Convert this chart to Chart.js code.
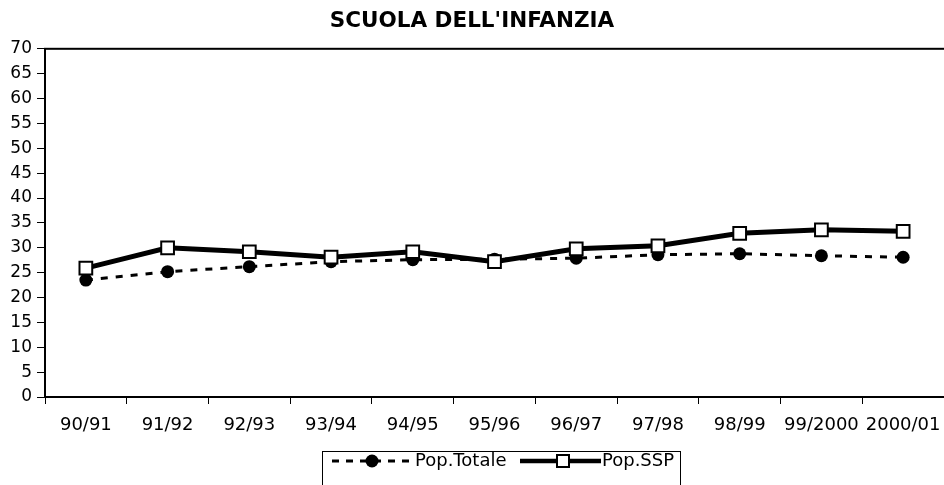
<!DOCTYPE html>
<html>
<head>
<meta charset="utf-8">
<script src="https://cdn.jsdelivr.net/npm/chart.js@4"></script>
<style>
  html, body { margin: 0; padding: 0; background: #fff; }
  #wrap { width: 944px; height: 485px; }
</style>
</head>
<body>
<div id="wrap"><canvas id="myChart" width="944" height="485"></canvas></div>
<script>
// data
const years = ['90/91', '91/92', '92/93', '93/94', '94/95', '95/96', '96/97', '97/98', '98/99', '99/2000', '2000/01'];
const popTotale = [23.5, 25.2, 26.2, 27.2, 27.6, 27.7, 27.9, 28.6, 28.8, 28.4, 28.1];
const popSSP = [25.9, 30.0, 29.2, 28.1, 29.2, 27.2, 29.8, 30.4, 32.9, 33.6, 33.3];
const yTicks = [0, 70, 5]; // min, max, step

const font = '"DejaVu Sans", Arial, sans-serif';

// box round the plot area + the legend drawn by hand
const framePlugin = {
  id: 'frame',
  afterDraw: function(chart) {
    const ctx = chart.ctx;
    const a = chart.chartArea;
    ctx.save();
    ctx.strokeStyle = '#000';
    ctx.lineWidth = 2;
    ctx.strokeRect(a.left, a.top, a.right - a.left + 4, a.bottom - a.top);

    // legend
    ctx.lineWidth = 1;
    ctx.strokeRect(322.5, 451.5, 358, 40);
    const ly = 461;
    // Pop.Totale
    ctx.lineWidth = 3;
    ctx.setLineDash([7, 7]);
    ctx.beginPath();
    ctx.moveTo(332, ly);
    ctx.lineTo(413, ly);
    ctx.stroke();
    ctx.setLineDash([]);
    ctx.fillStyle = '#000';
    ctx.beginPath();
    ctx.arc(372, ly, 6.5, 0, Math.PI * 2);
    ctx.fill();
    // Pop.SSP
    ctx.lineWidth = 4.5;
    ctx.beginPath();
    ctx.moveTo(520, ly);
    ctx.lineTo(601, ly);
    ctx.stroke();
    ctx.fillStyle = '#fff';
    ctx.lineWidth = 2;
    ctx.fillRect(557, ly - 6, 12, 12);
    ctx.strokeRect(557, ly - 6, 12, 12);

    ctx.fillStyle = '#000';
    ctx.font = '18px ' + font;
    ctx.textBaseline = 'middle';
    ctx.textAlign = 'left';
    ctx.fillText('Pop.Totale', 415, ly);
    ctx.fillText('Pop.SSP', 602, ly);
    ctx.restore();
  }
};

const ctx = document.getElementById('myChart').getContext('2d');
const myChart = new Chart(ctx, {
  type: 'line',
  data: {
    labels: years,
    datasets: [{
      label: 'Pop.Totale',
      data: popTotale,
      borderColor: '#000',
      borderWidth: 3,
      borderDash: [7, 8],
      pointStyle: 'circle',
      pointRadius: 6.5,
      pointBackgroundColor: '#000',
      pointBorderColor: '#000',
      pointBorderWidth: 0,
      tension: 0,
      order: 2
    }, {
      label: 'Pop.SSP',
      data: popSSP,
      borderColor: '#000',
      borderWidth: 5,
      pointStyle: 'rect',
      pointRadius: 9,
      pointBackgroundColor: '#fff',
      pointBorderColor: '#000',
      pointBorderWidth: 2,
      tension: 0,
      order: 1
    }]
  },
  options: {
    responsive: false,
    animation: false,
    events: [],
    layout: { autoPadding: false, padding: { left: 0, right: 0, top: 0, bottom: 0 } },
    plugins: {
      legend: { display: false },
      tooltip: { enabled: false },
      title: {
        display: true,
        text: "SCUOLA DELL'INFANZIA",
        color: '#000',
        font: { family: font, size: 21.5, weight: 'bold' },
        padding: { top: 9, bottom: 14 }
      }
    },
    scales: {
      x: {
        offset: true,
        grid: {
          offset: true,
          drawOnChartArea: false,
          drawTicks: true,
          tickLength: 7,
          tickColor: '#000',
          tickWidth: 1
        },
        border: { display: false },
        ticks: {
          color: '#000',
          font: { family: font, size: 18 },
          padding: 11,
          maxRotation: 0,
          autoSkip: false
        },
        afterFit: function(scale) {
          scale.height = 88;
          scale.paddingLeft = 0;
          scale.paddingRight = 0;
        }
      },
      y: {
        min: yTicks[0],
        max: yTicks[1],
        grid: {
          drawOnChartArea: false,
          drawTicks: true,
          tickLength: 8,
          tickColor: '#000',
          tickWidth: 1
        },
        border: { display: false },
        ticks: {
          stepSize: yTicks[2],
          color: '#000',
          font: { family: font, size: 17 },
          padding: 5
        },
        afterFit: function(scale) { scale.width = 45; }
      }
    }
  },
  plugins: [framePlugin]
});
</script>
</body>
</html>
